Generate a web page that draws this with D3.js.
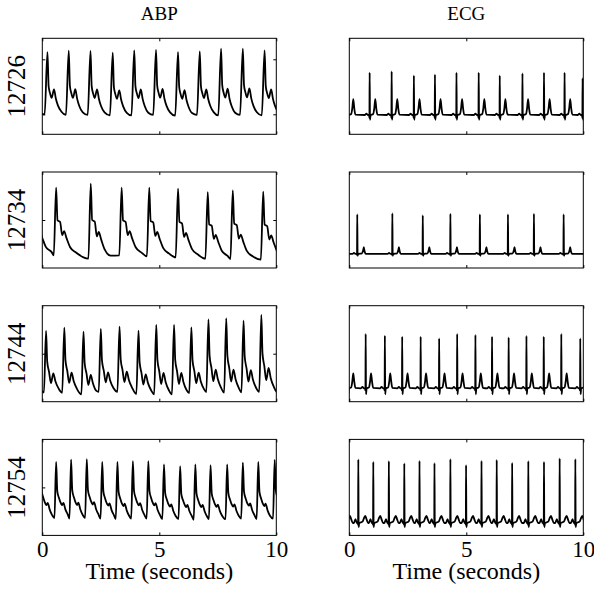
<!DOCTYPE html>
<html>
<head>
<meta charset="utf-8">
<script src="https://cdn.jsdelivr.net/npm/d3@7"></script>
<style>
    body { margin: 0; background: #fff; }
    text { font-family: "Liberation Serif", "Times New Roman", serif; }
</style>
</head>
<body>
<script>
/* ----------------------------------------------------------------------------
ABP and ECG traces for four records, 10 seconds each.
Beats: time and height of every peak, plus the
shape of one beat for every record.
-----------------------------------------------------------------------------*/

var records = ["12726", "12734", "12744", "12754"];
var columnTitles = ["ABP", "ECG"];
var timeTicks = [0, 5, 10];

// ABP axis range and ticks per record (mmHg)
var abpRanges = [[31.8, 119.1], [60, 140], [60, 140], [60, 140]];
var abpTicks = [[50, 100], [100], [100], [100]];

// ABP systolic peaks: time (s), peak pressure, foot pressure before the peak
var abpPeakTimes = [
    [-0.71, 0.22, 1.13, 2.06, 3.01, 3.93, 4.86, 5.80, 6.73, 7.64, 8.57, 9.50],
    [-0.45, 0.59, 2.07, 3.39, 4.57, 5.80, 7.07, 8.14, 9.44],
    [-0.62, 0.16, 0.94, 1.76, 2.50, 3.30, 4.11, 4.87, 5.63, 6.37, 7.10, 7.86,
     8.60, 9.36, 10.12],
    [-0.08, 0.59, 1.23, 1.90, 2.56, 3.21, 3.87, 4.53, 5.20, 5.89, 6.54, 7.19,
     7.90, 8.57, 9.23, 9.93]
];
var abpPeakValues = [
    [107, 106.6, 107.9, 107.6, 106.0, 108.2, 108.5, 106.6, 107.3, 109.7, 109.7,
     108.2],
    [126.9, 126.9, 130.3, 126.9, 126.9, 126.1, 123.3, 124.7, 123.6],
    [120, 118.9, 121.7, 118.4, 120.6, 122.5, 119.2, 123.9, 123.9, 122.0, 128.6,
     129.5, 127.5, 132.3, 130],
    [122.7, 121.3, 123.2, 123.5, 121.3, 121.3, 121.9, 121.9, 119.1, 117.7,
     119.1, 118.5, 119.1, 120.7, 121.3, 123.0]
];
var abpFootValues = [
    [49.5, 50.0, 49.4, 49.4, 49.0, 49.0, 49.4, 48.8, 49.4, 49.0, 49.4, 49.0],
    [71, 70.6, 67.8, 70.6, 69.7, 68.9, 67.8, 67.5, 66.9],
    [67.5, 67.8, 67.5, 66.1, 68.3, 68.3, 66.4, 66.1, 66.1, 67.2, 68.0, 67.5,
     67.8, 68.3, 68],
    [74, 74.5, 74.0, 74.5, 74.0, 73.5, 74.0, 74.0, 73.5, 73.5, 73.0, 73.5,
     73.5, 74.0, 73.5, 74.0]
];
// one ABP beat: [seconds from peak, fraction of foot-to-peak height]
var abpShapes = [
    [[-0.12, 0], [0, 1], [0.05, 0.45], [0.11, 0.34], [0.18, 0.265],
     [0.28, 0.40], [0.36, 0.25], [0.45, 0.14], [0.6, 0.04]],
    [[-0.1, 0], [0, 1], [0.06, 0.515], [0.17, 0.495], [0.26, 0.297],
     [0.34, 0.356], [0.45, 0.25], [0.6, 0.119], [0.85, 0.04]],
    [[-0.09, 0], [0, 1], [0.05, 0.5], [0.13, 0.33], [0.21, 0.15],
     [0.31, 0.31], [0.4, 0.18], [0.54, 0.06]],
    [[-0.07, 0], [0, 1], [0.05, 0.48], [0.12, 0.36], [0.22, 0.25],
     [0.26, 0.23], [0.31, 0.27], [0.4, 0.15], [0.5, 0.06]]
];

// ECG axis range (mV) and baseline per record
var ecgRange = [-0.5, 1.5];
var ecgBaselines = [-0.098, -0.207, -0.221, -0.242];

// ECG R waves: time (s) and height (mV)
var ecgRTimes = [
    [-0.07, 0.87, 1.81, 2.76, 3.66, 4.58, 5.53, 6.43, 7.40, 8.32, 9.20, 9.97],
    [-1.16, 0.34, 1.84, 3.14, 4.32, 5.58, 6.78, 7.89, 9.16, 10.4],
    [-0.06, 0.70, 1.52, 2.26, 3.05, 3.84, 4.61, 5.39, 6.10, 6.81, 7.57, 8.31,
     9.06, 9.87],
    [-0.27, 0.385, 1.025, 1.69, 2.35, 3.00, 3.64, 4.32, 4.99, 5.65, 6.30, 6.96,
     7.65, 8.32, 8.99, 9.66, 10.31]
];
var ecgRValues = [
    [0.78, 0.784, 0.812, 0.721, 0.742, 0.784, 0.784, 0.721, 0.770, 0.784,
     0.784, 0.666],
    [0.62, 0.615, 0.636, 0.594, 0.629, 0.615, 0.615, 0.629, 0.615, 0.62],
    [0.87, 0.910, 0.876, 0.855, 0.855, 0.820, 0.910, 0.890, 0.855, 0.841,
     0.869, 0.855, 0.910, 0.820],
    [1.05, 1.082, 1.032, 1.046, 0.998, 1.053, 1.005, 1.088, 0.963, 1.053,
     1.074, 1.012, 1.046, 1.032, 1.102, 1.088, 1.05]
];
// one ECG beat: [seconds from R, mV above baseline], "R" is the R wave
var ecgShapes = [
    [[-0.2, 0], [-0.14, 0.03], [-0.08, 0], [-0.025, 0], [-0.01, -0.06],
     [0, "R"], [0.014, -0.1], [0.04, 0], [0.15, 0.02], [0.2, 0.15],
     [0.24, 0.33], [0.28, 0.15], [0.33, 0.01]],
    [[-0.2, 0], [-0.14, 0.02], [-0.08, 0], [-0.025, 0], [-0.01, -0.02],
     [0, "R"], [0.014, -0.04], [0.04, 0], [0.2, 0.01], [0.25, 0.07],
     [0.28, 0.14], [0.31, 0.06], [0.37, 0]],
    [[-0.2, 0], [-0.14, 0.03], [-0.08, 0], [-0.025, 0], [-0.01, -0.05],
     [0, "R"], [0.014, -0.125], [0.04, 0], [0.14, 0.02], [0.19, 0.15],
     [0.23, 0.31], [0.27, 0.15], [0.32, 0.01]],
    [[-0.19, 0], [-0.12, 0.08], [-0.06, 0], [-0.025, 0], [-0.01, -0.04],
     [0, "R"], [0.014, -0.09], [0.04, 0], [0.18, 0.03], [0.25, 0.11],
     [0.3, 0.15], [0.35, 0.08], [0.42, 0]]
];

// Layout: first panel corner, panel size and the steps between panels.
var margin = {left: 42.3, top: 38.3},
    panelW = 234,
    panelH = 96,
    colStep = 307,
    rowStep = 133.7;

var svg = d3.select("body").append("svg")
    .attr("width", 594)
    .attr("height", 590);

svg.append("clipPath")
    .attr("id", "plotArea")
    .append("rect")
    .attr("width", panelW)
    .attr("height", panelH);

var xScale = d3.scaleLinear().domain([0, 10]).range([0, panelW]);

// build the trace of one record from its beats
function abpTrace(r) {
    var pts = [];
    abpPeakTimes[r].forEach(function (tp, i) {
        var foot = abpFootValues[r][i],
            amp = abpPeakValues[r][i] - foot;
        abpShapes[r].forEach(function (s) {
            pts.push([tp + s[0], foot + s[1] * amp]);
        });
    });
    return pts.sort(function (a, b) { return a[0] - b[0]; });
}

function ecgTrace(r) {
    var pts = [];
    ecgRTimes[r].forEach(function (tr, i) {
        ecgShapes[r].forEach(function (s) {
            var v = s[1] === "R" ? ecgRValues[r][i] : ecgBaselines[r] + s[1];
            pts.push([tr + s[0], v]);
        });
    });
    return pts.sort(function (a, b) { return a[0] - b[0]; });
}

function styleAxis(sel) {
    sel.select(".domain").remove();
    sel.selectAll(".tick line").attr("stroke", "#000");
    sel.selectAll(".tick text")
        .attr("fill", "#000")
        .attr("font-family", "Liberation Serif, Times New Roman, serif")
        .attr("font-size", "23px");
}

function drawPanel(row, col) {
    var isAbp = col === 0,
        isBottom = row === records.length - 1,
        domain = isAbp ? abpRanges[row] : ecgRange,
        yScale = d3.scaleLinear().domain(domain).range([panelH, 0]),
        data = isAbp ? abpTrace(row) : ecgTrace(row);

    var g = svg.append("g")
        .attr("transform", "translate(" + (margin.left + col * colStep) +
              "," + (margin.top + row * rowStep) + ")");

    var line = d3.line()
        .x(function (d) { return xScale(d[0]); })
        .y(function (d) { return yScale(d[1]); })
        .curve(d3.curveMonotoneX);

    g.append("path")
        .datum(data)
        .attr("clip-path", "url(#plotArea)")
        .attr("fill", "none")
        .attr("stroke", "#000")
        .attr("stroke-width", 1.8)
        .attr("stroke-linejoin", "round")
        .attr("d", line);

    // inward ticks on all four sides, like a boxed MATLAB axes
    g.append("g")
        .attr("transform", "translate(0," + panelH + ")")
        .call(d3.axisBottom(xScale).tickValues(timeTicks)
              .tickSize(-3).tickPadding(5)
              .tickFormat(isBottom ? d3.format("d") : ""))
        .call(styleAxis);

    g.append("g")
        .call(d3.axisTop(xScale).tickValues(timeTicks)
              .tickSize(-3).tickFormat(""))
        .call(styleAxis);

    if (isAbp) {
        g.append("g")
            .call(d3.axisLeft(yScale).tickValues(abpTicks[row])
                  .tickSize(-3).tickFormat(""))
            .call(styleAxis);
        g.append("g")
            .attr("transform", "translate(" + panelW + ",0)")
            .call(d3.axisRight(yScale).tickValues(abpTicks[row])
                  .tickSize(-3).tickFormat(""))
            .call(styleAxis);
    }

    g.append("rect")
        .attr("width", panelW)
        .attr("height", panelH)
        .attr("fill", "none")
        .attr("stroke", "#000")
        .attr("stroke-width", 1);

    if (isAbp) {
        svg.append("text")
            .attr("transform", "translate(25," +
                  (margin.top + row * rowStep + panelH / 2) + ") rotate(-90)")
            .attr("text-anchor", "middle")
            .attr("font-size", "25px")
            .text(records[row]);
    }
    if (row === 0) {
        svg.append("text")
            .attr("x", margin.left + col * colStep + panelW / 2)
            .attr("y", 20)
            .attr("text-anchor", "middle")
            .attr("font-size", "19px")
            .text(columnTitles[col]);
    }
    if (isBottom) {
        svg.append("text")
            .attr("x", margin.left + col * colStep + panelW / 2)
            .attr("y", margin.top + row * rowStep + panelH + 44)
            .attr("text-anchor", "middle")
            .attr("font-size", "24px")
            .text("Time (seconds)");
    }
}

records.forEach(function (rec, row) {
    columnTitles.forEach(function (t, col) {
        drawPanel(row, col);
    });
});
</script>
</body>
</html>
